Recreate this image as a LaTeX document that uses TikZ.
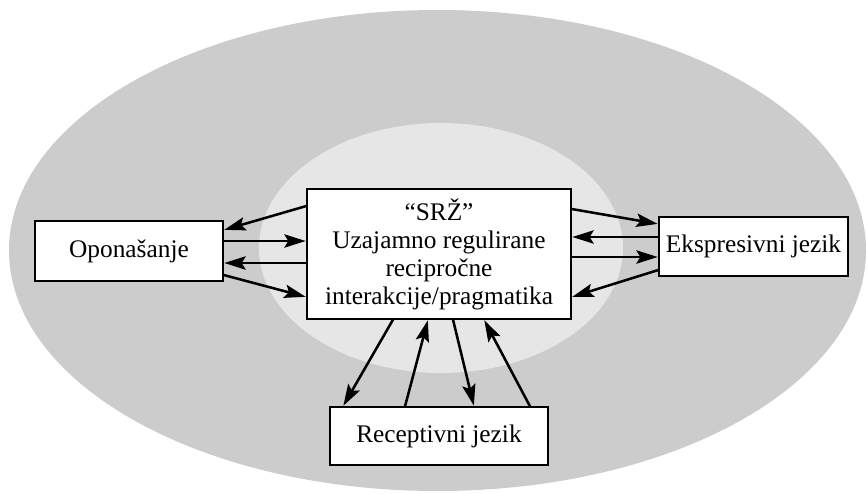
\documentclass[tikz,border=0pt]{standalone}
\usepackage{fontspec}
\setmainfont{Liberation Serif}
\usepackage{tikz}
\usepackage{xcolor}
\usetikzlibrary{arrows.meta}
\definecolor{outer-grey}{HTML}{CCCCCC}
\definecolor{inner-grey}{HTML}{E6E6E6}
\tikzset{
    skill-box/.style = {draw=black, fill=white, line width=1pt, rectangle, inner sep=0pt, font=\fontsize{19}{21}\selectfont, align=center},
    link-arrow/.style = {-{Stealth[length=16pt, width=10pt, inset=3pt]}, line width=1.9pt, shorten >=0.5pt},
}

\begin{document}
\begin{tikzpicture}[x=0.75pt, y=-0.75pt]
\useasboundingbox (0,0) rectangle (867,493);
\fill[outer-grey] (437.5,250.5) ellipse [x radius=428.5, y radius=240.5];
\fill[inner-grey] (441,248) ellipse [x radius=182, y radius=125];

\node [skill-box, minimum width=198pt, minimum height=97.5pt] (core) at (439,254) {“SRŽ”\\Uzajamno regulirane\\recipročne\\interakcije/pragmatika};
\node [skill-box, minimum width=141pt, minimum height=45pt] (imitation) at (129,251) {Oponašanje};
\node [skill-box, minimum width=141.75pt, minimum height=44.25pt] (expressive) at (753.5,246.5) {Ekspresivni jezik};
\node [skill-box, minimum width=163.5pt, minimum height=43.5pt] (receptive) at (439,436) {Receptivni jezik};

\draw [link-arrow] ([yshift=36pt]core.west) -- ([yshift=15.75pt]imitation.east);
\draw [link-arrow] ([yshift=7.5pt]imitation.east) -- ([yshift=9.75pt]core.west);
\draw [link-arrow] ([yshift=-6.75pt]core.west) -- ([yshift=-9pt]imitation.east);
\draw [link-arrow] ([yshift=-18pt]imitation.east) -- ([yshift=-32.25pt]core.west);

\draw [link-arrow] ([yshift=33.75pt]core.east) -- ([yshift=16.875pt]expressive.west);
\draw [link-arrow] ([yshift=7.125pt]expressive.west) -- ([yshift=12.75pt]core.east);
\draw [link-arrow] ([yshift=-2.25pt]core.east) -- ([yshift=-7.875pt]expressive.west);
\draw [link-arrow] ([yshift=-17.625pt]expressive.west) -- ([yshift=-32.25pt]core.east);

\draw [link-arrow] ([xshift=-34.5pt]core.south) -- ([xshift=-72pt]receptive.north);
\draw [link-arrow] ([xshift=-25.5pt]receptive.north) -- ([xshift=-8.25pt]core.south);
\draw [link-arrow] ([xshift=10.5pt]core.south) -- ([xshift=26.25pt]receptive.north);
\draw [link-arrow] ([xshift=68.25pt]receptive.north) -- ([xshift=33.75pt]core.south);
\end{tikzpicture}
\end{document}
